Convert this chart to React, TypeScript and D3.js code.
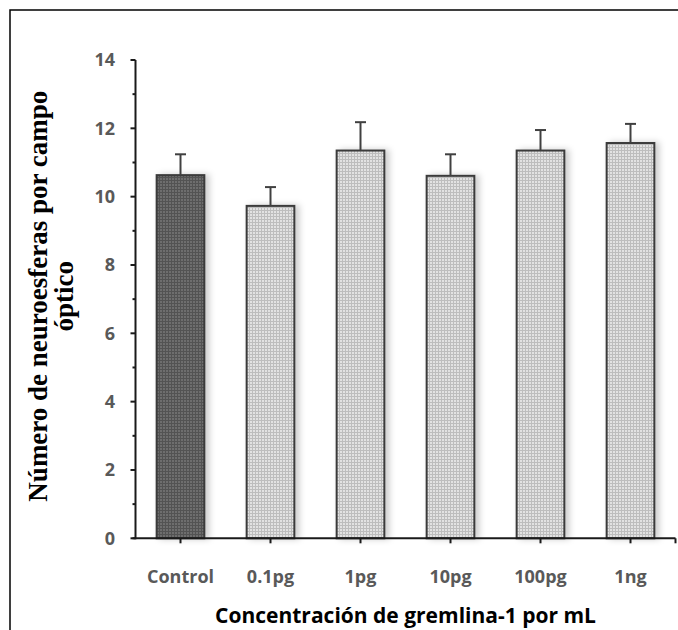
import React from "react";
import * as d3 from "d3";

// Groups along the x axis and their measured means and standard deviations
const categories = ["Control", "0.1pg", "1pg", "10pg", "100pg", "1ng"];
const means = [10.63, 9.73, 11.35, 10.61, 11.35, 11.57];
const errors = [0.61, 0.55, 0.83, 0.63, 0.6, 0.56];
const yTicks = [0, 2, 4, 6, 8, 10, 12, 14];
const yMinorTicks = [1, 3, 5, 7, 9, 11, 13];

const W = 678;
const H = 630;
const plot = { left: 135.5, right: 675.5, top: 60, bottom: 538.3 };

const sansFont = "'Open Sans', Lato, sans-serif";

export default function App() {
  const x = d3
    .scaleBand<string>()
    .domain(categories)
    .range([plot.left, plot.right])
    .padding(0);
  const y = d3.scaleLinear().domain([0, 14]).range([plot.bottom, plot.top]);
  const barW = x.bandwidth() * 0.53;
  const capW = 11;
  const midX = (plot.left + plot.right) / 2;
  const midY = (plot.top + plot.bottom) / 2;

  return (
    <svg
      width={W}
      height={H}
      style={{ position: "absolute", left: 0, top: 0, background: "#fff" }}
    >
      <defs>
        <pattern id="fillLight" width="3" height="3" patternUnits="userSpaceOnUse">
          <rect width="3" height="3" fill="#e2e2e2" />
          <rect width="3" height="1" fill="#bdbdbd" />
          <rect width="1" height="3" fill="#bdbdbd" />
        </pattern>
        <pattern id="fillDark" width="3" height="3" patternUnits="userSpaceOnUse">
          <rect width="3" height="3" fill="#6e6e6e" />
          <rect width="3" height="1" fill="#535353" />
          <rect width="1" height="3" fill="#535353" />
        </pattern>
        <filter id="barShadow" x="-30%" y="-10%" width="160%" height="120%">
          <feDropShadow dx="4" dy="0" stdDeviation="3" floodColor="#000" floodOpacity="0.2" />
        </filter>
      </defs>

      {/* outer frame */}
      <rect x={10} y={10} width={W + 20} height={H + 20} fill="none" stroke="#000" strokeWidth={1.5} />

      {/* bars */}
      {categories.map((c, i) => {
        const cx = (x(c) as number) + x.bandwidth() / 2;
        return (
          <rect
            key={c}
            x={cx - barW / 2}
            y={y(means[i])}
            width={barW}
            height={y(0) - y(means[i])}
            fill={i === 0 ? "url(#fillDark)" : "url(#fillLight)"}
            stroke="#3a3a3a"
            strokeWidth={2}
            filter="url(#barShadow)"
          />
        );
      })}

      {/* error bars */}
      {categories.map((c, i) => {
        const cx = (x(c) as number) + x.bandwidth() / 2;
        const top = y(means[i] + errors[i]);
        return (
          <g key={c} stroke="#404040" strokeWidth={2}>
            <line x1={cx} x2={cx} y1={y(means[i])} y2={top} />
            <line x1={cx - capW / 2} x2={cx + capW / 2} y1={top} y2={top} />
          </g>
        );
      })}

      {/* y axis */}
      <g stroke="#1a1a1a" strokeWidth={2}>
        <line x1={plot.left} x2={plot.left} y1={plot.top} y2={plot.bottom + 1} />
        {yTicks.map((t) => (
          <line key={t} x1={plot.left - 5} x2={plot.left} y1={y(t)} y2={y(t)} />
        ))}
        {yMinorTicks.map((t) => (
          <line key={t} x1={plot.left - 3} x2={plot.left} y1={y(t)} y2={y(t)} />
        ))}
      </g>
      {yTicks.map((t) => (
        <text
          key={t}
          x={115}
          y={y(t)}
          dy="0.36em"
          textAnchor="end"
          fontFamily={sansFont}
          fontWeight="bold"
          fontSize={18}
          fill="#595959"
        >
          {t}
        </text>
      ))}

      {/* x axis */}
      <g stroke="#1a1a1a" strokeWidth={2}>
        <line x1={plot.left - 3} x2={plot.right} y1={plot.bottom} y2={plot.bottom} />
        <line x1={plot.right} x2={plot.right} y1={plot.bottom} y2={plot.bottom + 5} />
        {categories.map((c) => {
          const cx = (x(c) as number) + x.bandwidth() / 2;
          return <line key={c} x1={cx} x2={cx} y1={plot.bottom} y2={plot.bottom + 5} />;
        })}
      </g>
      {categories.map((c) => {
        const cx = (x(c) as number) + x.bandwidth() / 2;
        return (
          <text
            key={c}
            x={cx}
            y={583}
            textAnchor="middle"
            fontFamily={sansFont}
            fontWeight="bold"
            fontSize={18}
            fill="#595959"
          >
            {c}
          </text>
        );
      })}

      {/* axis titles */}
      <text
        x={midX}
        y={623}
        textAnchor="middle"
        fontFamily={sansFont}
        fontWeight="bold"
        fontSize={21}
        fill="#000"
      >
        Concentración de gremlina-1 por mL
      </text>
      <g
        transform={`translate(0, ${midY - 3}) rotate(-90)`}
        fontFamily="'Liberation Serif', 'Times New Roman', serif"
        fontWeight="bold"
        fontSize={27}
        fill="#000"
        textAnchor="middle"
      >
        <text x={0} y={47}>Número de neuroesferas por campo</text>
        <text x={0} y={73}>óptico</text>
      </g>
    </svg>
  );
}
